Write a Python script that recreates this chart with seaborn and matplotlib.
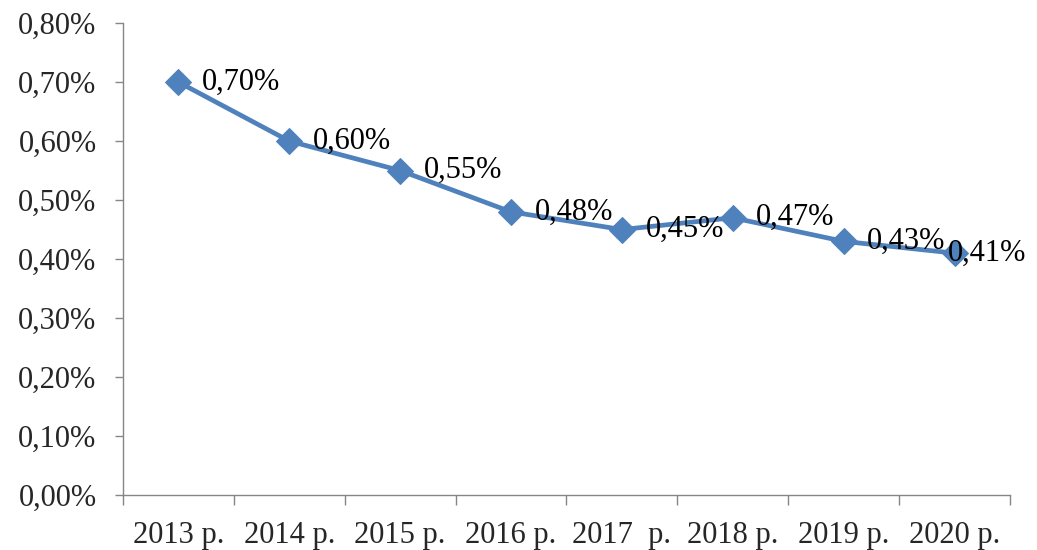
import matplotlib
matplotlib.use("Agg")
import matplotlib.pyplot as plt
import numpy as np
import pandas as pd
import seaborn as sns
from matplotlib.ticker import FuncFormatter, FixedLocator

years = ["2013 р.", "2014 р.", "2015 р.", "2016 р.", "2017  р.", "2018 р.", "2019 р.", "2020 р."]
values = [0.70, 0.60, 0.55, 0.48, 0.45, 0.47, 0.43, 0.41]
label_texts = ["0,70%", "0,60%", "0,55%", "0,48%", "0,45%", "0,47%", "0,43%", "0,41%"]

sns.set_style("white")
plt.rcParams['font.family'] = ['Liberation Serif', 'DejaVu Serif']

df = pd.DataFrame({"pos": np.arange(len(years)), "value": values})

fig = plt.figure(figsize=(10.37, 5.5), dpi=100)
ax = fig.add_axes([0.1186, 0.1, 0.8553, 0.858])

sns.lineplot(data=df, x="pos", y="value", ax=ax, color="#4F81BD", linewidth=3.4,
             marker="D", markersize=13, markeredgecolor="#4F81BD")

# data labels to the right of each point
for i, (v, t) in enumerate(zip(values, label_texts)):
    dx = 17 if i < len(values) - 1 else -5
    ax.annotate(t, (i, v), xytext=(dx, 0), textcoords="offset points",
                ha="left", va="center", fontsize=22, color="black")

ax.set_xlim(-0.5, len(years) - 0.5)
ax.set_ylim(0, 0.8)
ax.set_yticks(np.arange(0, 0.81, 0.1))
ax.yaxis.set_major_formatter(FuncFormatter(lambda y, _: f"{y:.2f}%".replace(".", ",")))

ax.set_xticks(np.arange(len(years)))
ax.set_xticklabels(years)
ax.xaxis.set_minor_locator(FixedLocator(np.arange(-0.5, len(years), 1.0)))
ax.tick_params(axis="x", which="major", bottom=True, length=0, pad=19, labelsize=22)
ax.tick_params(axis="x", which="minor", bottom=True, length=7, width=1, color="#868686", direction="out")
ax.tick_params(axis="y", which="major", left=True, length=6, width=1, color="#868686",
               direction="out", labelsize=22, pad=13)

ax.set_xlabel("")
ax.set_ylabel("")
for s in ["top", "right"]:
    ax.spines[s].set_visible(False)
for s in ["left", "bottom"]:
    ax.spines[s].set_color("#868686")
    ax.spines[s].set_linewidth(1)

fig.savefig("out.png", dpi=100)
